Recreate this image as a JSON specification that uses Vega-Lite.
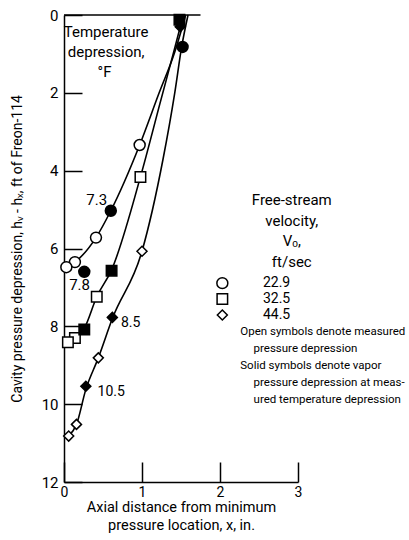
{
  "$schema": "https://vega.github.io/schema/vega-lite/v6.json",
  "width": 234,
  "height": 467,
  "autosize": "none",
  "padding": {"left": 64, "top": 15, "right": 111, "bottom": 58},
  "background": "white",
  "config": {
    "view": {"stroke": null},
    "font": "Roboto, sans-serif",
    "axis": {
      "grid": false,
      "domainColor": "black",
      "domainWidth": 1.5,
      "tickColor": "black",
      "tickWidth": 1.5,
      "labelColor": "black",
      "titleColor": "black",
      "labelFontSize": 15,
      "titleFontSize": 14.5,
      "titleFontWeight": "normal",
      "labelFlush": false,
      "labelOverlap": false
    }
  },
  "datasets": {
    "points": [
      {"x": 0.97, "y": 3.34, "vel": "22.9", "kind": "open"},
      {"x": 0.41, "y": 5.72, "vel": "22.9", "kind": "open"},
      {"x": 0.14, "y": 6.35, "vel": "22.9", "kind": "open"},
      {"x": 0.03, "y": 6.48, "vel": "22.9", "kind": "open"},
      {"x": 0.60, "y": 5.03, "vel": "22.9", "kind": "solid"},
      {"x": 0.26, "y": 6.60, "vel": "22.9", "kind": "solid"},
      {"x": 1.52, "y": 0.82, "vel": "22.9", "kind": "solid"},
      {"x": 0.98, "y": 4.16, "vel": "32.5", "kind": "open"},
      {"x": 0.42, "y": 7.24, "vel": "32.5", "kind": "open"},
      {"x": 0.14, "y": 8.30, "vel": "32.5", "kind": "open"},
      {"x": 0.05, "y": 8.41, "vel": "32.5", "kind": "open"},
      {"x": 0.61, "y": 6.57, "vel": "32.5", "kind": "solid"},
      {"x": 0.26, "y": 8.08, "vel": "32.5", "kind": "solid"},
      {"x": 1.48, "y": 0.12, "vel": "32.5", "kind": "solid"},
      {"x": 1.00, "y": 6.07, "vel": "44.5", "kind": "open"},
      {"x": 0.44, "y": 8.81, "vel": "44.5", "kind": "open"},
      {"x": 0.16, "y": 10.52, "vel": "44.5", "kind": "open"},
      {"x": 0.06, "y": 10.82, "vel": "44.5", "kind": "open"},
      {"x": 0.62, "y": 7.77, "vel": "44.5", "kind": "solid"},
      {"x": 0.28, "y": 9.54, "vel": "44.5", "kind": "solid"},
      {"x": 1.49, "y": 0.30, "vel": "44.5", "kind": "solid"}
    ],
    "curves": [
      {"x": 0.03, "y": 6.48, "vel": "22.9"},
      {"x": 0.14, "y": 6.35, "vel": "22.9"},
      {"x": 0.41, "y": 5.72, "vel": "22.9"},
      {"x": 0.60, "y": 5.03, "vel": "22.9"},
      {"x": 0.97, "y": 3.34, "vel": "22.9"},
      {"x": 1.22, "y": 2.00, "vel": "22.9"},
      {"x": 1.42, "y": 0.95, "vel": "22.9"},
      {"x": 1.56, "y": 0.00, "vel": "22.9"},
      {"x": 0.05, "y": 8.41, "vel": "32.5"},
      {"x": 0.14, "y": 8.30, "vel": "32.5"},
      {"x": 0.26, "y": 8.05, "vel": "32.5"},
      {"x": 0.42, "y": 7.24, "vel": "32.5"},
      {"x": 0.61, "y": 6.55, "vel": "32.5"},
      {"x": 0.98, "y": 4.16, "vel": "32.5"},
      {"x": 1.24, "y": 2.20, "vel": "32.5"},
      {"x": 1.42, "y": 0.85, "vel": "32.5"},
      {"x": 1.53, "y": 0.00, "vel": "32.5"},
      {"x": 0.06, "y": 10.82, "vel": "44.5"},
      {"x": 0.16, "y": 10.52, "vel": "44.5"},
      {"x": 0.28, "y": 9.62, "vel": "44.5"},
      {"x": 0.44, "y": 8.81, "vel": "44.5"},
      {"x": 0.62, "y": 7.80, "vel": "44.5"},
      {"x": 1.00, "y": 6.07, "vel": "44.5"},
      {"x": 1.27, "y": 3.70, "vel": "44.5"},
      {"x": 1.42, "y": 2.00, "vel": "44.5"},
      {"x": 1.51, "y": 0.80, "vel": "44.5"},
      {"x": 1.59, "y": 0.00, "vel": "44.5"}
    ],
    "frame": [{"x": 0, "x2": 1.75, "y": 0}],
    "yTitle": [{"x": -0.59, "y": 6.01, "text": "Cavity pressure depression,  hᵥ - hₓ,  ft of Freon-114"}],
    "centerText": [
      {"x": 0.54, "y": 0.44, "text": "Temperature"},
      {"x": 0.54, "y": 0.95, "text": "depression,"},
      {"x": 0.52, "y": 1.47, "text": "°F"},
      {"x": 0.42, "y": 4.76, "text": "7.3"},
      {"x": 0.20, "y": 6.94, "text": "7.8"},
      {"x": 2.92, "y": 4.75, "text": "Free-stream"},
      {"x": 2.92, "y": 5.29, "text": "velocity,"},
      {"x": 2.92, "y": 5.81, "text": "Vₒ,"},
      {"x": 2.92, "y": 6.35, "text": "ft/sec"}
    ],
    "leftText": [
      {"x": 0.73, "y": 7.92, "text": "8.5"},
      {"x": 0.43, "y": 9.69, "text": "10.5"},
      {"x": 2.55, "y": 6.89, "text": "22.9"},
      {"x": 2.55, "y": 7.30, "text": "32.5"},
      {"x": 2.55, "y": 7.71, "text": "44.5"}
    ],
    "legendText": [
      {"x": 2.26, "y": 8.15, "text": "Open symbols denote measured"},
      {"x": 2.43, "y": 8.58, "text": "pressure depression"},
      {"x": 2.26, "y": 9.02, "text": "Solid symbols denote vapor"},
      {"x": 2.43, "y": 9.46, "text": "pressure depression at meas-"},
      {"x": 2.43, "y": 9.89, "text": "ured temperature depression"}
    ],
    "legendSym": [
      {"x": 2.03, "y": 6.89, "vel": "22.9", "kind": "open"},
      {"x": 2.03, "y": 7.30, "vel": "32.5", "kind": "open"},
      {"x": 2.03, "y": 7.71, "vel": "44.5", "kind": "open"}
    ]
  },
  "encoding": {
    "x": {
      "field": "x",
      "type": "quantitative",
      "scale": {"domain": [0, 3], "nice": false, "zero": false},
      "axis": {
        "values": [0, 1, 2, 3],
        "tickSize": -20,
        "labelPadding": 23,
        "labelFontSize": 14,
        "title": ["Axial distance from minimum", "pressure location, x, in."],
        "titleBaseline": "top",
        "titleY": 18,
        "titleLineHeight": 18
      }
    },
    "y": {
      "field": "y",
      "type": "quantitative",
      "scale": {"domain": [0, 12], "nice": false, "zero": false, "reverse": true},
      "axis": {
        "values": [0, 2, 4, 6, 8, 10, 12],
        "tickSize": -18,
        "labelPadding": 24,
        "title": null
      }
    }
  },
  "layer": [
    {
      "data": {"name": "frame"},
      "mark": {"type": "rule", "color": "black", "strokeWidth": 1.5},
      "encoding": {"x2": {"field": "x2"}}
    },
    {
      "data": {"name": "curves"},
      "mark": {"type": "line", "interpolate": "monotone", "color": "black", "strokeWidth": 1.6},
      "encoding": {"detail": {"field": "vel", "type": "nominal"}}
    },
    {
      "data": {"name": "points"},
      "mark": {"type": "point", "filled": true, "stroke": "black", "strokeWidth": 1.5, "opacity": 1},
      "encoding": {
        "shape": {"field": "vel", "type": "nominal", "scale": {"domain": ["22.9", "32.5", "44.5"], "range": ["circle", "square", "diamond"]}, "legend": null},
        "fill": {"field": "kind", "type": "nominal", "scale": {"domain": ["open", "solid"], "range": ["white", "black"]}, "legend": null},
        "size": {"field": "vel", "type": "ordinal", "scale": {"domain": ["22.9", "32.5", "44.5"], "range": [120, 100, 150]}, "legend": null}
      }
    },
    {
      "data": {"name": "legendSym"},
      "mark": {"type": "point", "filled": true, "stroke": "black", "strokeWidth": 1.5, "opacity": 1},
      "encoding": {
        "shape": {"field": "vel", "type": "nominal", "scale": {"domain": ["22.9", "32.5", "44.5"], "range": ["circle", "square", "diamond"]}, "legend": null},
        "fill": {"field": "kind", "type": "nominal", "scale": {"domain": ["open", "solid"], "range": ["white", "black"]}, "legend": null},
        "size": {"field": "vel", "type": "ordinal", "scale": {"domain": ["22.9", "32.5", "44.5"], "range": [120, 100, 150]}, "legend": null}
      }
    },
    {
      "data": {"name": "yTitle"},
      "mark": {"type": "text", "align": "center", "baseline": "middle", "angle": 270, "fontSize": 14, "color": "black"},
      "encoding": {"text": {"field": "text"}}
    },
    {
      "data": {"name": "centerText"},
      "mark": {"type": "text", "align": "center", "baseline": "middle", "fontSize": 15, "color": "black"},
      "encoding": {"text": {"field": "text"}}
    },
    {
      "data": {"name": "leftText"},
      "mark": {"type": "text", "align": "left", "baseline": "middle", "fontSize": 14, "color": "black"},
      "encoding": {"text": {"field": "text"}}
    },
    {
      "data": {"name": "legendText"},
      "mark": {"type": "text", "align": "left", "baseline": "middle", "fontSize": 11.5, "color": "black"},
      "encoding": {"text": {"field": "text"}}
    }
  ]
}
